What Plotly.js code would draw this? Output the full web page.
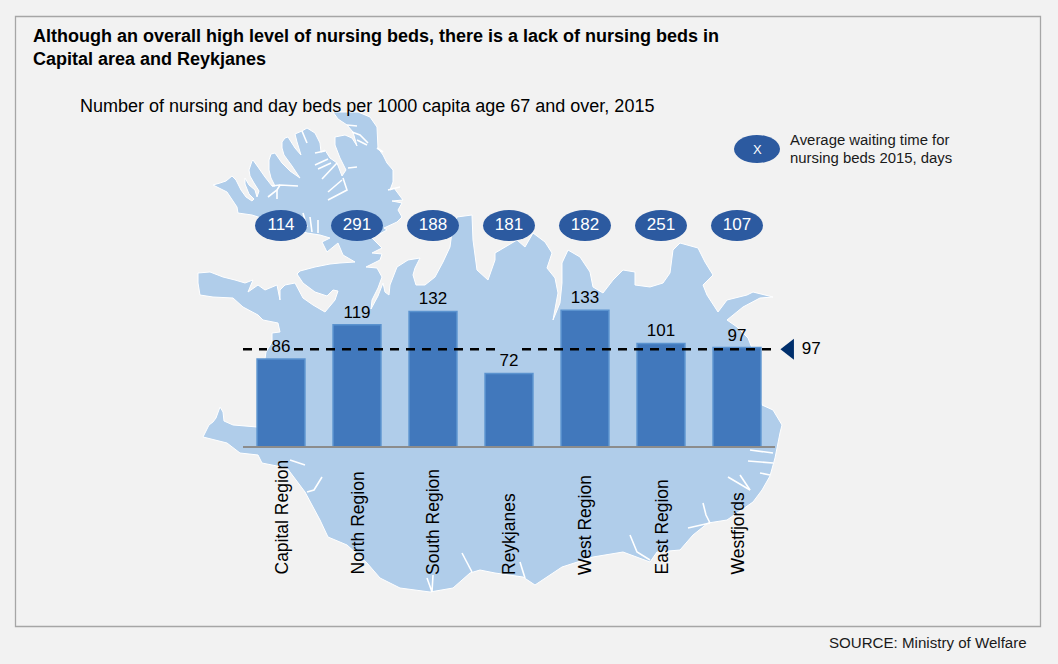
<!DOCTYPE html>
<html>
<head>
<meta charset="utf-8">
<script src="https://cdn.plot.ly/plotly-3.0.1.min.js"></script>
<style>html,body{margin:0;padding:0;background:#f2f2f2;overflow:hidden}#chart{width:1058px;height:664px}</style>
</head>
<body>
<div id="chart"></div>
<script>
// ---- chart data ----
const categories = ["Capital Region","North Region","South Region","Reykjanes","West Region","East Region","Westfjords"];
const bedsPerThousand = [86,119,132,72,133,101,97];
const waitingDays = [114,291,188,181,182,251,107];
const averageBeds = 97;
const averageLineLevel = 95.4;
const waitingLevel = 215;

// ---- decorative background map of Iceland, page pixels ----
const mapOutline = [
[213,185],[220,183],[226,181],[232,176],[236,180],[241,190],[246,197],[252,201],[254,199],[249,194],[245,184],[245,178],[249,185],[255,190],[257,197],[259,191],[254,183],[250,176],[249,170],[252,161],[253,160],[258,167],[265,177],[272,186],[275,186],[271,178],[269,170],[269,160],[271,154],[275,153],[282,163],[290,171],[300,178],[292,166],[284,155],[282,148],[282,142],[285,138],[288,137],[295,148],[301,155],[297,142],[295,134],[302,131],[307,128],[315,133],[320,143],[321,152],[325,150],[330,158],[337,163],[342,176],[346,170],[340,158],[335,145],[335,137],[345,135],[352,138],[357,146],[353,132],[347,125],[338,119],[333,112],[345,112],[358,112],[370,117],[377,127],[378,148],[383,155],[387,163],[393,170],[393,182],[390,190],[394,188],[403,200],[392,201],[402,203],[398,210],[402,217],[397,222],[384,228],[387,230],[372,238],[382,248],[372,253],[382,254],[380,260],[366,267],[377,268],[382,277],[378,288],[372,300],[371,309],[378,296],[383,283],[385,292],[389,295],[390,285],[397,267],[408,260],[420,258],[415,268],[413,275],[416,285],[425,285],[435,277],[443,262],[450,247],[452,232],[457,217],[472,215],[473,240],[477,270],[488,280],[495,260],[495,253],[517,240],[525,247],[533,233],[545,242],[552,253],[547,268],[555,278],[558,293],[553,320],[560,303],[562,283],[562,263],[568,250],[580,257],[590,272],[593,287],[603,293],[613,280],[623,270],[635,272],[635,285],[650,287],[663,283],[670,273],[673,250],[680,243],[698,248],[705,262],[713,275],[703,285],[707,295],[718,312],[727,300],[747,295],[753,292],[773,297],[760,298],[743,307],[727,320],[737,327],[748,338],[752,348],[757,380],[762,405],[773,410],[782,425],[780,433],[775,458],[770,476],[762,490],[753,502],[727,520],[708,523],[693,535],[680,550],[657,552],[650,562],[623,552],[593,557],[562,567],[535,585],[523,577],[495,573],[480,570],[470,573],[453,588],[430,592],[400,588],[380,578],[367,563],[347,545],[328,537],[320,520],[305,492],[290,472],[287,468],[262,463],[258,455],[240,453],[227,443],[203,437],[209,425],[213,422],[216,418],[220,407],[223,412],[224,421],[233,425],[257,427],[262,420],[262,380],[266,352],[272,342],[272,333],[280,332],[278,323],[263,320],[258,315],[243,307],[233,298],[213,297],[200,295],[198,283],[198,273],[210,272],[223,277],[235,280],[245,283],[253,280],[248,292],[258,285],[265,290],[277,285],[280,300],[280,290],[285,285],[295,283],[303,298],[313,305],[325,312],[335,300],[338,291],[333,290],[327,296],[315,292],[303,283],[297,274],[300,271],[315,267],[330,264],[340,263],[355,262],[343,255],[338,243],[327,252],[322,242],[330,238],[320,235],[307,233],[252,215],[238,213],[237,207],[227,192]
];
const mapFjords = [
[[298,186],[280,185],[277,190],[268,197]],[[277,190],[277,199]],[[280,185],[272,186]],
[[315,153],[325,151]],[[315,165],[328,159]],[[318,169],[331,163]],[[322,179],[337,163]],
[[328,192],[342,180]],[[328,200],[347,190],[343,178]],[[348,168],[357,167]],
[[347,125],[357,126]],[[352,132],[360,135],[368,143]],[[357,140],[367,145]],[[377,148],[383,152]],
[[388,190],[400,187]],[[302,131],[307,143]],[[303,213],[307,227]],[[310,217],[312,232]],[[318,220],[318,233]],
[[290,460],[305,465]],[[307,492],[314,490],[322,477]],[[462,553],[472,572]],[[427,578],[432,592],[433,575]],
[[703,503],[706,515],[710,523]],[[728,477],[750,490]],[[740,475],[750,490]],[[760,473],[770,475]],
[[750,450],[773,453]],[[748,461],[773,463]],[[630,535],[637,552],[650,560]],[[520,562],[525,578]],[[688,528],[710,523]]
];

// ---- layout geometry ----
const W = 1058, H = 664, plotL = 243, plotR = 835, plotB = 448, plotT = 148;
const slotPx = 76;
const xMax = (plotR - plotL) / slotPx - 0.5;
const px = (x) => (x - plotL) / (plotR - plotL);
const py = (y) => (plotB - y) / (plotB - plotT);
const pathOf = (pts, close) => pts.map((p, i) => (i ? "L" : "M") + px(p[0]).toFixed(5) + "," + py(p[1]).toFixed(5)).join(" ") + (close ? " Z" : "");

const shapes = [];
shapes.push({type:"rect",xref:"paper",yref:"paper",x0:px(15.5),x1:px(1040.5),y0:py(16.5),y1:py(626.5),line:{color:"#a6a6a6",width:1.3},fillcolor:"rgba(0,0,0,0)",layer:"below"});
shapes.push({type:"path",xref:"paper",yref:"paper",path:pathOf(mapOutline,true),fillcolor:"#b0cdea",line:{color:"#ffffff",width:1},layer:"below"});
mapFjords.forEach(f => shapes.push({type:"path",xref:"paper",yref:"paper",path:pathOf(f,false),line:{color:"#ffffff",width:1.6},layer:"below"}));
categories.forEach((c,i) => shapes.push({type:"circle",xref:"x",yref:"y",x0:i-0.342,x1:i+0.342,y0:waitingLevel-15,y1:waitingLevel+15,fillcolor:"#2c5aa0",line:{width:0},layer:"below"}));
shapes.push({type:"circle",xref:"paper",yref:"paper",x0:px(734),x1:px(780),y0:py(163),y1:py(135),fillcolor:"#2c5aa0",line:{width:0},layer:"below"});
shapes.push({type:"line",xref:"x2",yref:"y",x0:-0.5,x1:6.5,y0:0.7,y1:0.7,line:{color:"#8c8c8c",width:2.5},layer:"above"});

const font = "Liberation Sans, Arial, sans-serif";
const annotations = categories.map(c => ({
  x:c, xref:"x", y:py(577), yref:"paper", yanchor:"bottom", xanchor:"center", text:c, textangle:-90, showarrow:false,
  font:{family:font,size:17.5,color:"#000"}
}));
const note = (x,y,text,size,color,xa) => ({x:px(x),y:py(y),xref:"paper",yref:"paper",xanchor:xa||"left",yanchor:"middle",align:"left",text,showarrow:false,font:{family:font,size,color:color||"#000"}});
annotations.push(note(78,106.5,"Number of nursing and day beds per 1000 capita age 67 and over, 2015",18));
annotations.push(note(788,140,"Average waiting time for",14.9,"#1a1a1a"));
annotations.push(note(788,157.5,"nursing beds 2015, days",14.9,"#1a1a1a"));
annotations.push(note(757,149,"X",13,"#fff","center"));
annotations.push(note(1029,642,"SOURCE: Ministry of Welfare",15.1,"#1a1a1a","right"));

const lineX = [-0.5, (267-plotL)/slotPx-0.5, null, (294-plotL)/slotPx-0.5, (497-plotL)/slotPx-0.5, null, (522-plotL)/slotPx-0.5, 6.5];
const lineY = lineX.map(v => v === null ? null : averageLineLevel);

const traces = [
  {type:"bar",x:categories,y:bedsPerThousand,width:0.63,text:bedsPerThousand.map(String),textposition:"outside",cliponaxis:false,constraintext:"none",
   textfont:{family:font,size:17,color:"#000"},marker:{color:"#4178bc",line:{color:"#5b93cf",width:1.5}},hoverinfo:"x+y"},
  {type:"scatter",mode:"text",x:categories,y:categories.map(()=>waitingLevel),text:waitingDays.map(String),textposition:"middle center",cliponaxis:false,
   textfont:{family:font,size:17,color:"#fff"},hoverinfo:"text"},
  {type:"scatter",mode:"lines",xaxis:"x2",x:lineX,y:lineY,line:{color:"#000",width:2.3,dash:"9px,7px"},connectgaps:false,hoverinfo:"skip"},
  {type:"scatter",mode:"markers+text",xaxis:"x2",x:[6.69],y:[averageLineLevel],text:[String(averageBeds)],textposition:"middle right",cliponaxis:false,
   marker:{symbol:"triangle-left",size:18,color:"#002f6c"},textfont:{family:font,size:17,color:"#000"},hoverinfo:"text"}
];

const layout = {
  width:W,height:H,paper_bgcolor:"#f2f2f2",plot_bgcolor:"rgba(0,0,0,0)",showlegend:false,bargap:0.37,
  margin:{l:plotL,r:W-plotR,t:plotT,b:H-plotB,pad:0},
  title:{text:"<b>Although an overall high level of nursing beds, there is a lack of nursing beds in<br>Capital area and Reykjanes</b>",x:33/W,xanchor:"left",xref:"container",y:1-41.5/H,yanchor:"top",yref:"container",font:{family:font,size:18,color:"#000"}},
  xaxis:{type:"category",categoryorder:"array",categoryarray:categories,range:[-0.5,xMax],showgrid:false,zeroline:false,showticklabels:false,ticks:"",showline:false,fixedrange:true},
  xaxis2:{overlaying:"x",type:"linear",range:[-0.5,xMax],visible:false,fixedrange:true},
  yaxis:{range:[0,(plotB-plotT)/1.035],visible:false,fixedrange:true,showgrid:false,zeroline:false},
  shapes,annotations
};
Plotly.newPlot("chart",traces,layout,{displayModeBar:false});
</script>
</body>
</html>
